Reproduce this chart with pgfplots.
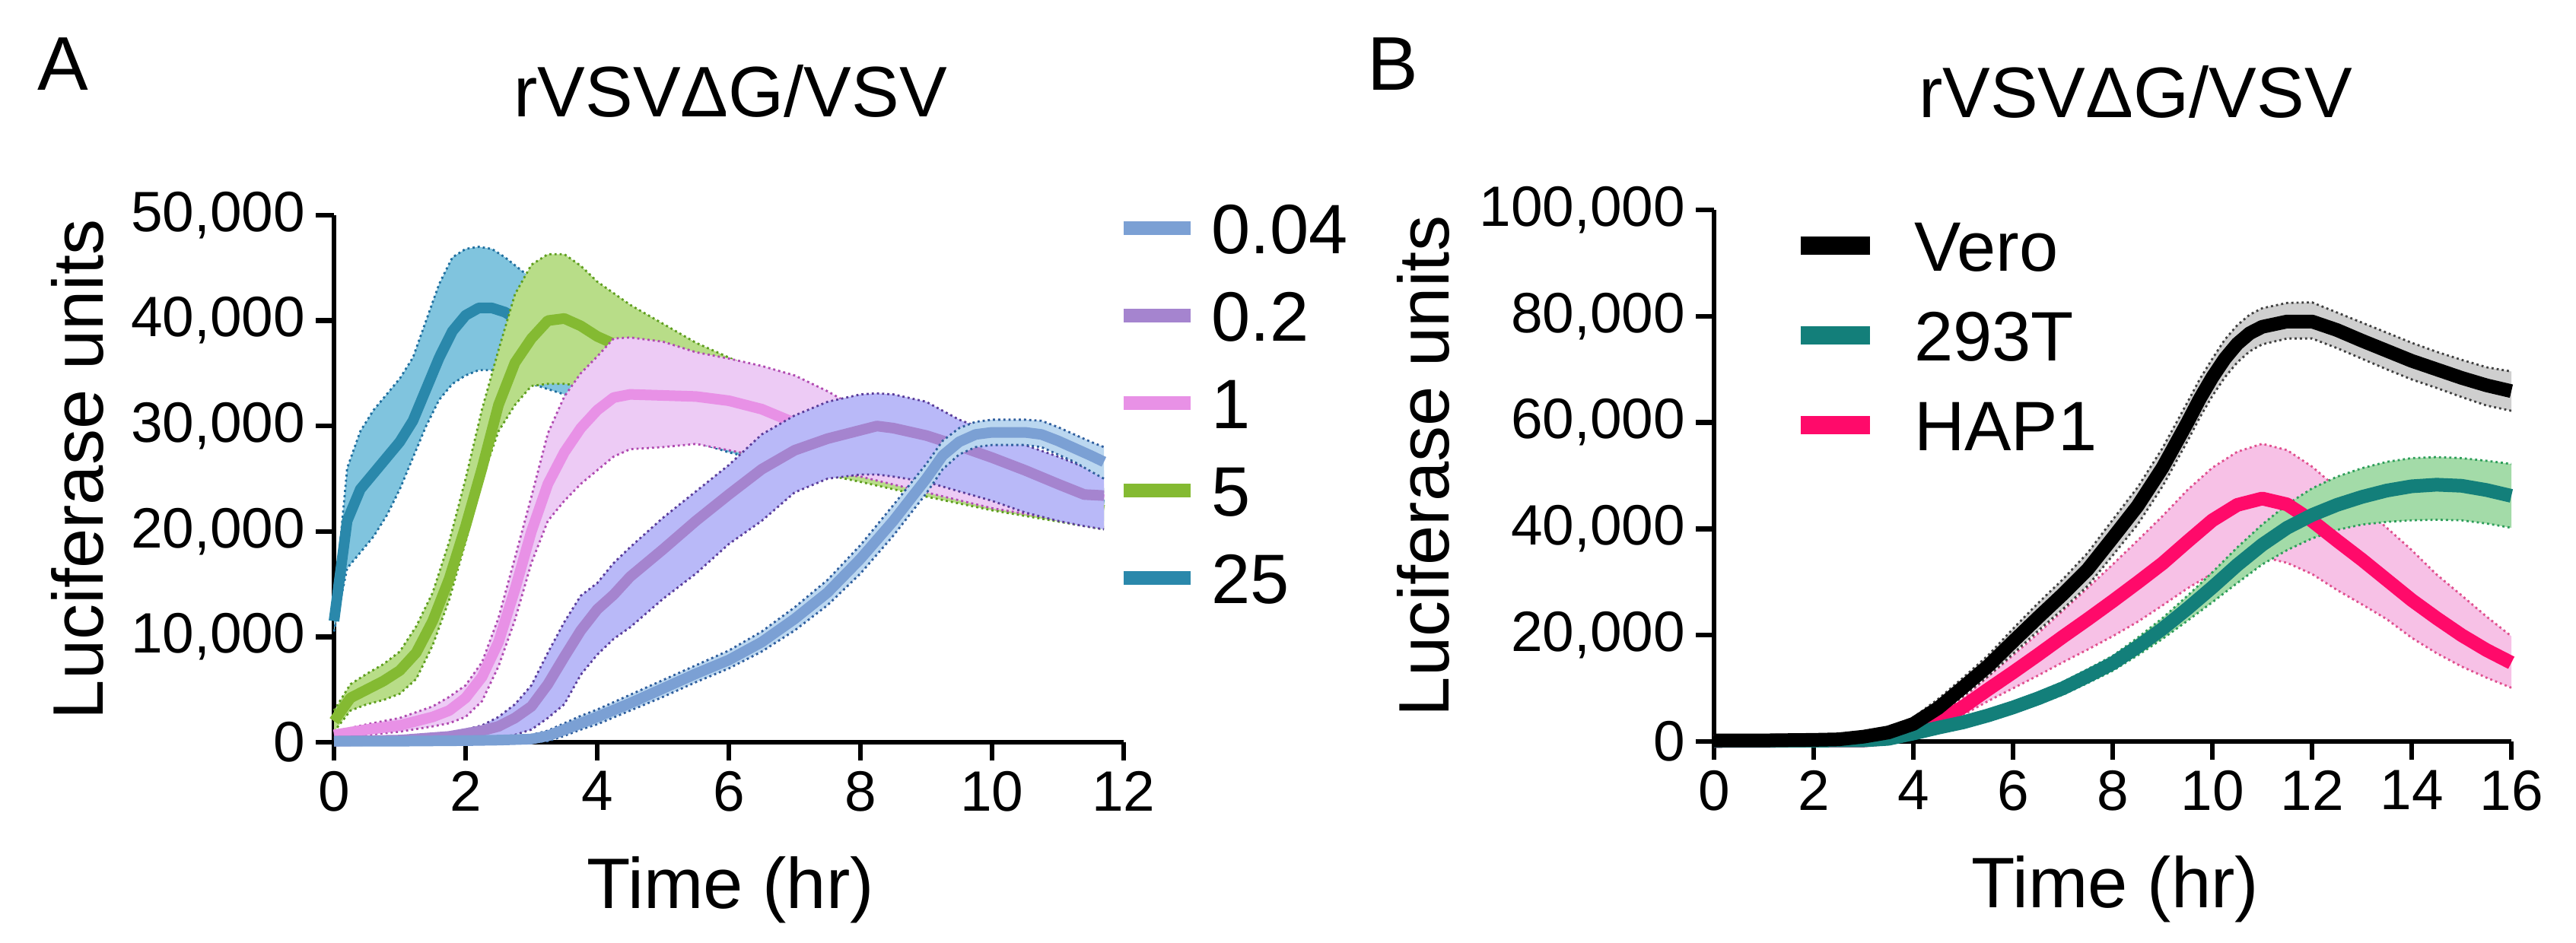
\documentclass[border=0pt]{standalone}
\usepackage{fontspec}
\setmainfont{Liberation Sans}
\usepackage{pgfplots}
\pgfplotsset{compat=1.18}
\usepgfplotslibrary{fillbetween}
\usepackage{pgfplotstable}

\definecolor{lA}{HTML}{7BA0D4}\definecolor{bA}{HTML}{BBD7F0}\definecolor{eA}{HTML}{2F5E9E}
\definecolor{lB}{HTML}{A584CF}\definecolor{bB}{HTML}{B9B9F8}\definecolor{eB}{HTML}{5A3C9A}
\definecolor{lC}{HTML}{E891E6}\definecolor{bC}{HTML}{EDCBF5}\definecolor{eC}{HTML}{B04AB0}
\definecolor{lD}{HTML}{84BA32}\definecolor{bD}{HTML}{B8DD88}\definecolor{eD}{HTML}{5E9E1E}
\definecolor{lE}{HTML}{2A88AB}\definecolor{bE}{HTML}{80C4DE}\definecolor{eE}{HTML}{1F6E9E}
\definecolor{lVero}{HTML}{000000}\definecolor{bVero}{HTML}{CFCFCF}\definecolor{eVero}{HTML}{404040}
\definecolor{lHEK}{HTML}{137F7A}\definecolor{bHEK}{HTML}{A3DBA8}\definecolor{eHEK}{HTML}{2E9E5A}
\definecolor{lHAP}{HTML}{FF0A6A}\definecolor{bHAP}{HTML}{F7C1E6}\definecolor{eHAP}{HTML}{E0508F}

% ---------- Panel A ----------
\pgfplotstableread{
t m lo hi
0 11500 10500 12500
0.2 21000 16500 26000
0.4 24000 18000 29500
0.6 25500 19500 31500
0.8 27000 21500 33000
1.0 28500 24000 34500
1.2 30500 27000 36500
1.4 33500 30000 40000
1.6 36500 32500 43500
1.8 39000 34000 46000
2.0 40500 34800 46800
2.2 41200 35300 47000
2.4 41200 35300 46800
2.6 40800 35000 46000
2.8 40000 34500 45000
3.0 38500 34000 44000
3.5 37000 33000 41000
4.0 35000 31500 38500
5.0 32500 29500 35500
6.0 30000 27500 33000
7.0 28000 26000 30500
8.0 26500 25000 28500
9.0 25000 23500 26500
10.0 24000 22500 25500
11.7 22500 21000 24000
}\tTwentyFive
\pgfplotstableread{
t m lo hi
0 2000 1000 3000
0.25 4200 3000 5500
0.5 5000 3600 6500
0.75 5800 4000 7400
1.0 6800 4600 8600
1.25 8500 6000 11000
1.5 11500 9200 14200
1.75 15500 13500 19000
2.0 20500 19000 25000
2.25 26000 25000 31600
2.5 32000 29500 37200
2.75 36000 32000 42500
3.0 38300 33800 45300
3.25 40000 34000 46300
3.5 40200 34000 46300
3.75 39500 33800 45200
4.0 38500 33000 43700
4.25 37800 32000 42600
4.5 37000 31000 41500
5.0 35500 30000 39700
5.5 34000 29000 37900
6.0 32500 27800 36500
7.0 30000 26000 33500
8.0 27500 24700 30500
9.0 25500 23300 28000
10.0 24000 22000 26000
11.7 22000 20200 24000
}\tFive
\pgfplotstableread{
t m lo hi
0 700 400 1000
0.5 1200 700 1700
1.0 1600 1000 2300
1.5 2400 1500 3400
1.75 3000 1800 4300
2.0 4200 2400 5400
2.25 6200 3900 7600
2.5 9500 7200 11800
2.75 14500 11600 17500
3.0 20000 17000 23300
3.25 24500 21000 29300
3.5 27500 22900 32800
3.75 29800 24500 35000
4.0 31500 25800 36600
4.25 32700 27100 38300
4.5 33000 27800 38400
5.0 32900 28000 38000
5.5 32800 28300 37000
6.0 32400 27700 36400
6.5 31600 27100 35700
7.0 30300 26200 34800
7.5 29000 25600 33300
8.0 28000 25200 31500
9.0 26000 23700 29500
10.0 24500 22200 27000
11.7 23000 20400 24500
}\tOne
\pgfplotstableread{
t m lo hi
0 100 0 200
1.0 200 50 400
1.75 550 200 800
2.25 1100 300 1600
2.5 1500 400 2400
2.75 2300 700 3600
3.0 3400 1200 5400
3.25 5500 2300 8500
3.5 8100 3600 11400
3.75 10600 6400 13900
4.0 12600 8300 15100
4.25 14000 9800 17000
4.5 15700 10900 18500
5.0 18300 13600 21300
5.5 21000 16000 23800
6.0 23500 18800 26300
6.5 25900 21000 29200
7.0 27700 23700 31000
7.5 28800 25000 32300
8.0 29600 25400 33000
8.25 30000 25400 33100
8.5 29800 25200 33000
9.0 29100 24700 32300
9.5 28100 23800 30600
10.0 27000 22900 29400
10.5 25800 21800 28200
11.0 24500 21000 27100
11.4 23500 20500 26100
11.7 23400 20200 25800
}\tPtTwo
\pgfplotstableread{
t m lo hi
0 100 0 300
1 100 0 300
2 150 0 400
2.5 200 0 500
3.0 300 0 700
3.25 600 100 1100
3.5 1200 600 1800
3.75 1800 1200 2500
4.0 2400 1700 3100
4.5 3700 3000 4500
5.0 5100 4300 5900
5.5 6500 5700 7300
6.0 7800 7000 8700
6.5 9500 8600 10500
7.0 11700 10600 12800
7.5 14200 13000 15400
8.0 17400 16000 18700
8.5 21000 19600 22500
9.0 25000 23600 26400
9.25 27200 25900 28600
9.5 28500 27300 29800
9.75 29200 28000 30400
10.0 29400 28200 30600
10.5 29400 28200 30600
10.75 29200 28000 30500
11.0 28600 27300 29900
11.25 27900 26600 29200
11.5 27200 25700 28500
11.7 26600 25000 28000
}\tPtZeroFour

% ---------- Panel B ----------
\pgfplotstableread{
t m lo hi
0 200 0 400
1 200 0 400
2 300 100 500
2.5 400 200 700
3.0 900 500 1400
3.5 1700 1100 2400
4.0 3300 2400 4500
4.5 6300 5000 8000
5.0 10200 8600 12000
5.5 14200 12300 16200
6.0 18800 16500 21200
6.5 23300 20800 26000
7.0 27700 24900 30500
7.5 32400 29300 35500
8.0 38300 35000 41700
8.5 44300 40800 47800
9.0 51500 48000 55200
9.5 60000 56500 63800
9.75 64500 61000 68200
10.0 68500 65000 72000
10.25 72000 68500 75600
10.5 74800 71300 78300
10.75 76800 73400 80300
11.0 78000 74700 81500
11.5 79000 75800 82500
12.0 79000 75800 82600
12.5 77400 74000 80700
13.0 75400 72000 78800
13.5 73500 70000 76900
14.0 71600 68100 75000
14.5 70000 66500 73300
15.0 68400 64800 71800
15.5 67000 63200 70400
16.0 65900 62200 69600
}\tVero
\pgfplotstableread{
t m lo hi
0 100 0 200
3.0 200 50 400
3.5 500 200 800
4.0 1500 1000 2000
4.5 2600 2000 3200
5.0 3600 2900 4300
5.5 4900 4000 5700
6.0 6400 5400 7400
6.5 8100 7000 9200
7.0 10000 8800 11200
7.5 12300 11000 13600
8.0 14700 13300 16100
8.5 17800 16200 19500
9.0 21200 19300 23200
9.5 25000 22700 27400
10.0 29000 26200 31800
10.5 33200 29800 36500
11.0 37000 33300 40800
11.5 40200 36000 44600
12.0 42600 38200 47600
12.5 44500 39800 49800
13.0 46000 40800 51400
13.5 47200 41300 52600
14.0 48000 41600 53300
14.5 48300 41700 53500
15.0 48100 41600 53300
15.5 47300 41000 52800
16.0 46200 40200 52200
}\tHEK
\pgfplotstableread{
t m lo hi
0 100 0 200
3.0 200 50 400
3.5 600 300 900
4.0 1600 1000 2300
4.5 3800 2800 5000
5.0 6500 5000 8200
5.5 9800 7600 12200
6.0 13000 10000 16200
6.5 16300 12400 20300
7.0 19700 14900 24600
7.5 23000 17300 28900
8.0 26400 19800 33300
8.5 29900 22500 37800
9.0 33500 25600 42400
9.5 37600 28800 47300
10.0 41600 31600 51500
10.5 44500 33500 54500
11.0 45700 34700 56000
11.5 44600 33600 54800
12.0 41500 31500 51700
12.5 37800 28500 47700
13.0 34200 25800 44200
13.5 30400 23000 40200
14.0 26600 19500 36000
14.5 23200 16600 31400
15.0 20000 14100 27500
15.5 17200 12000 23500
16.0 14800 10100 19800
}\tHAP

\newcommand{\bandplot}[4]{%
  \addplot[draw=none, forget plot, name path=#2hi] table[x=t,y=hi]{#1};
  \addplot[draw=none, forget plot, name path=#2lo] table[x=t,y=lo]{#1};
  \addplot[fill=#3, draw=none, forget plot] fill between[of=#2hi and #2lo, on layer=main];
  \addplot[draw=#4, densely dotted, line width=0.7pt, forget plot] table[x=t,y=hi]{#1};
  \addplot[draw=#4, densely dotted, line width=0.7pt, forget plot] table[x=t,y=lo]{#1};
}
\newcommand{\meanplot}[3]{%
  \addplot[draw=#2, line width=#3, line join=round] table[x=t,y=m]{#1};
}

\pgfplotsset{
  panel/.style={
    scale only axis, clip=false, enlargelimits=false,
    axis x line*=bottom, axis y line*=left,
    axis line style={line width=1.6pt, black},
    tick style={line width=1.6pt, black},
    tick align=outside, major tick length=6pt,
    ymin=0,
    scaled y ticks=false,
    /pgf/number format/fixed,
    /pgf/number format/assume math mode=true,
    /pgf/number format/1000 sep={,},
    tick label style={font=\fontsize{18.7}{21}\selectfont},
    label style={font=\fontsize{23.5}{27}\selectfont},
    title style={font=\fontsize{23.5}{27}\selectfont, anchor=base},
    xlabel={Time (hr)}, ylabel={Luciferase units},
    title={rVSV\char"0394 G/VSV},
    legend cell align=left,
    reverse legend,
  }
}

\begin{document}
\begin{tikzpicture}
\node[anchor=base west, inner sep=0pt, font=\fontsize{25}{30}\selectfont] at (12.25pt,280.25pt) {A};
\node[anchor=base west, inner sep=0pt, font=\fontsize{25}{30}\selectfont] at (449.25pt,280.25pt) {B};

\begin{axis}[panel,
  at={(109.75pt,66pt)}, anchor=south west,
  width=259.5pt, height=173.25pt,
  xmin=0, xmax=12, ymax=50000,
  xtick={0,2,...,12}, ytick={0,10000,...,50000},
  title style={at={(0.502,1.1515)}},
  ylabel style={at={(-0.2923,0.518)}, anchor=base},
  xlabel style={at={(0.502,-0.3146)}, anchor=base},
  legend style={draw=none, fill=none, at={(0.979,1.0375)}, anchor=north west,
    font=\fontsize{23}{27}\selectfont, row sep=11.75pt,
    nodes={inner sep=0pt, text height=17pt, text depth=0pt},
    /tikz/every odd column/.append style={column sep=4.75pt}},
  legend image code/.code={\draw[#1, line width=4.4pt] (0pt,0pt) -- (22pt,0pt);},
  legend entries={25,5,1,0.2,0.04},
]
\bandplot{\tTwentyFive}{e}{bE}{eE}
\meanplot{\tTwentyFive}{lE}{3.5pt}
\bandplot{\tFive}{d}{bD}{eD}
\meanplot{\tFive}{lD}{3.5pt}
\bandplot{\tOne}{c}{bC}{eC}
\meanplot{\tOne}{lC}{3.5pt}
\bandplot{\tPtTwo}{b}{bB}{eB}
\meanplot{\tPtTwo}{lB}{3.5pt}
\bandplot{\tPtZeroFour}{a}{bA}{eA}
\meanplot{\tPtZeroFour}{lA}{3.5pt}
\end{axis}

\begin{axis}[panel,
  at={(563.25pt,66.25pt)}, anchor=south west,
  width=262pt, height=174.75pt,
  xmin=0, xmax=16, ymax=100000,
  xtick={0,2,...,16}, ytick={0,20000,...,100000},
  title style={at={(0.5286,1.140)}},
  ylabel style={at={(-0.333,0.518)}, anchor=base},
  xlabel style={at={(0.503,-0.313)}, anchor=base},
  legend style={draw=none, fill=none, at={(0.085,0.994)}, anchor=north west,
    font=\fontsize{23}{27}\selectfont, row sep=12.5pt,
    nodes={inner sep=0pt, text height=17pt, text depth=0pt},
    /tikz/every odd column/.append style={column sep=11.75pt}},
  legend image code/.code={\draw[#1, line width=5.8pt] (0pt,0pt) -- (22.75pt,0pt);},
  legend entries={HAP1,293T,Vero},
]
\bandplot{\tHAP}{h}{bHAP}{eHAP}
\bandplot{\tHEK}{k}{bHEK}{eHEK}
\bandplot{\tVero}{v}{bVero}{eVero}
\meanplot{\tHAP}{lHAP}{4.5pt}
\meanplot{\tHEK}{lHEK}{4.5pt}
\meanplot{\tVero}{lVero}{4.5pt}
\end{axis}
\path (0,0) rectangle (846.5pt,310pt);
\end{tikzpicture}
\end{document}
